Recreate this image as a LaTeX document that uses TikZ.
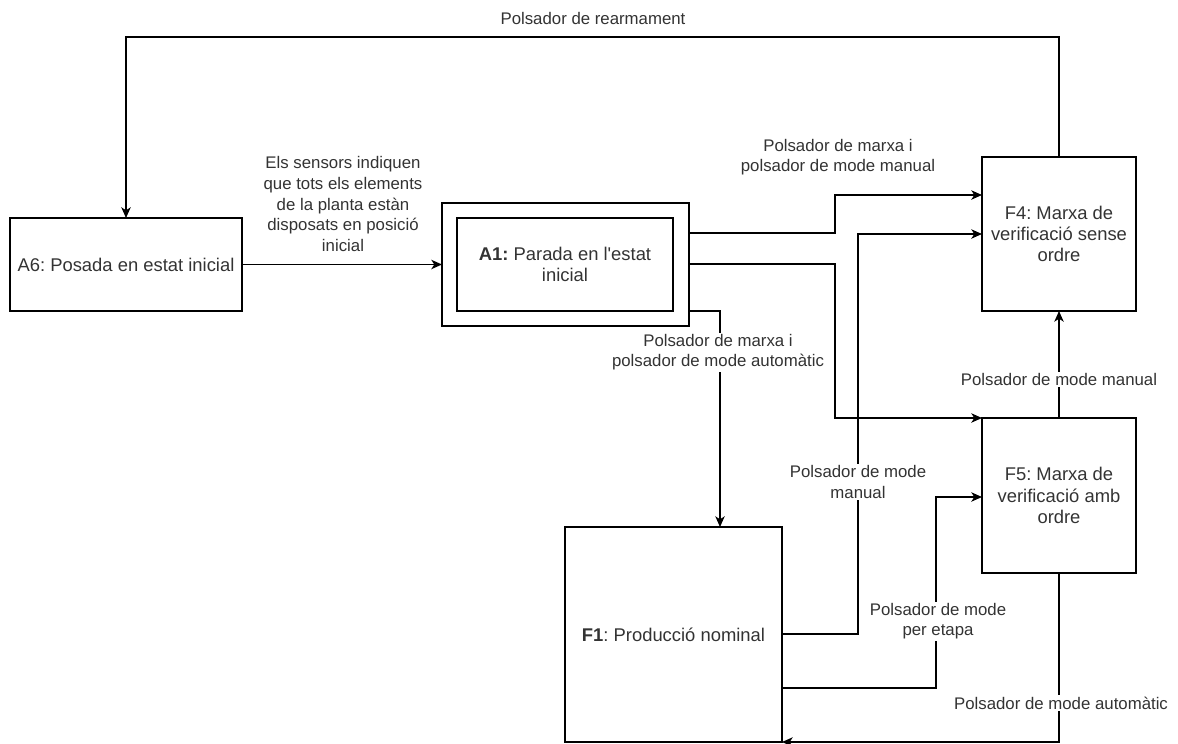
\documentclass[tikz,border=0pt]{standalone}
\usepackage{fontspec}
\setmainfont{Liberation Sans}[Ligatures=TeXOff]
\frenchspacing
\usetikzlibrary{arrows.meta}
\begin{document}
\begin{tikzpicture}[x=0.75pt,y=-0.75pt,
  line width=1.1pt,
  box/.style={draw, anchor=north west, inner sep=0pt, outer sep=0pt, align=center,
    text=black!80, font=\fontsize{13.8}{16}\selectfont},
  lbl/.style={fill=white, inner sep=1pt, align=center, text=black!80,
    font=\fontsize{12.6}{15.5}\selectfont},
  arr/.style={-{Stealth[length=8pt,width=7pt,inset=2.2pt]}}]
\useasboundingbox (0,0) rectangle (1178,743);

% boxes
\node[box, minimum width=174pt, minimum height=69.75pt] (A6) at (10,218) {A6: Posada en estat inicial};
\node[box, minimum width=185.25pt, minimum height=92.25pt] (A1o) at (442,203) {};
\node[box, minimum width=162pt, minimum height=69.75pt] (A1) at (457,218) {\textbf{A1:} Parada en l'estat\\inicial};
\node[box, minimum width=115.5pt, minimum height=115.5pt] (F4) at (982,157) {F4: Marxa de\\verificació sense\\ordre};
\node[box, minimum width=115.5pt, minimum height=116.25pt] (F5) at (982,418) {F5: Marxa de\\verificació amb\\ordre};
\node[box, minimum width=162.75pt, minimum height=161.25pt] (F1) at (565,527) {\textbf{F1}: Producció nominal};

% connectors
\draw[arr] (A6.east) -- (A1o.west);
\draw[arr] (F4.north) -- (F4.north |- 0,37) -| (A6.north);
\draw[arr] (A1o.east |- 0,233) -- (835,233) |- (F4.west |- 0,195);
\draw[arr] (A1o.east |- 0,264) -- (835,264) |- (F5.north west);
\draw[arr] (A1o.east |- 0,311) -| (F1.north -| 720,0);
\draw[arr] (F1.east |- 0,634) -- (858,634) |- (F4.west |- 0,234);
\draw[arr] (F1.east |- 0,688) -- (936,688) |- (F5.west |- 0,497);
\draw[arr] (F5.north) -- (F4.south);
\draw[arr] (F5.south) -- (F5.south |- 0,742) -- (F1.south east);

% labels
\node[lbl] (lrearm) at (593,18) {Polsador de rearmament};
\node[lbl] (lsens) at (343,204) {Els sensors indiquen\\que tots els elements\\de la planta estàn\\disposats en posició\\inicial};
\node[lbl] (lman1) at (838,157) {Polsador de marxa i\\polsador de mode manual};
\node[lbl] (lauto1) at (718,352) {Polsador de marxa i\\polsador de mode automàtic};
\node[lbl] (lman2) at (1059,379) {Polsador de mode manual};
\node[lbl] (lman3) at (858,482) {Polsador de mode\\manual};
\node[lbl] (letapa) at (938,621) {Polsador de mode\\per etapa};
\node[lbl] (lauto2) at (1061,703) {Polsador de mode automàtic};
\end{tikzpicture}
\end{document}
